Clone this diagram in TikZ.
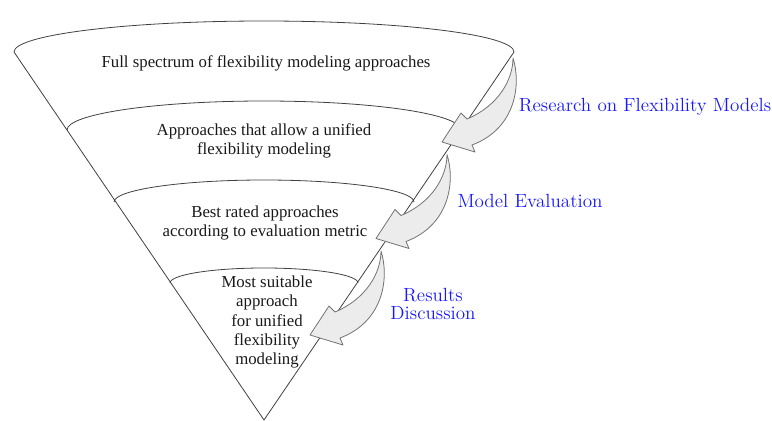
\documentclass[tikz,border=0pt]{standalone}
\usepackage{fontspec}
\newfontfamily\funnelfont{Liberation Serif}
\definecolor{stageblue}{RGB}{25,25,255}
\definecolor{arrowgray}{RGB}{236,236,236}

\begin{document}
\begin{tikzpicture}[x=0.75pt, y=-0.75pt,
    funnel/.style={draw=black!75, line width=0.6pt},
    bigarrow/.style={draw=black!55, fill=arrowgray, line width=0.6pt, line join=round},
    level/.style={font=\funnelfont\fontsize{12.6}{14.6}\selectfont, align=center, text=black!90},
    stage/.style={font=\fontsize{14.3}{13.6}\selectfont, align=center, text=stageblue}]
  \useasboundingbox (0,0) rectangle (772,421);

  % Funnel outline
  \draw[funnel] (14,52) -- (264,420) -- (514,52);
  \draw[funnel] (14,52) arc[start angle=180, end angle=360, x radius=250, y radius=31];
  \draw[funnel] (67,130) arc[start angle=180, end angle=360, x radius=197, y radius=29];
  \draw[funnel] (114,202) arc[start angle=180, end angle=360, x radius=150, y radius=22];
  \draw[funnel] (170,283) arc[start angle=180, end angle=360, x radius=94, y radius=15];

  % Curved arrows (same shape, shifted down the funnel)
  \foreach \s in {0,1,2}
    \draw[bigarrow, shift={({-66*\s},{96.5*\s})}]
      (513,58) .. controls (521,83) and (517,128) .. (472,145)
      -- (475,152) -- (442,142) -- (461,113) -- (467,119)
      .. controls (498,106) and (513,80) .. cycle;

  % Funnel levels
  \node[level] (full) at (266,63) {Full spectrum of flexibility modeling approaches};
  \node[level] (unified) at (264,141) {Approaches that allow a unified\\flexibility modeling};
  \node[level] (rated) at (265,223) {Best rated approaches\\according to evaluation metric};
  \node[level] (suitable) at (267,322) {Most suitable\\approach\\for unified\\flexibility\\modeling};

  % Stages
  \node[stage] (research) at (645,107) {Research on Flexibility Models};
  \node[stage] (evaluation) at (530,201) {Model Evaluation};
  \node[stage] (discussion) at (433,304) {Results\\Discussion};
\end{tikzpicture}
\end{document}
